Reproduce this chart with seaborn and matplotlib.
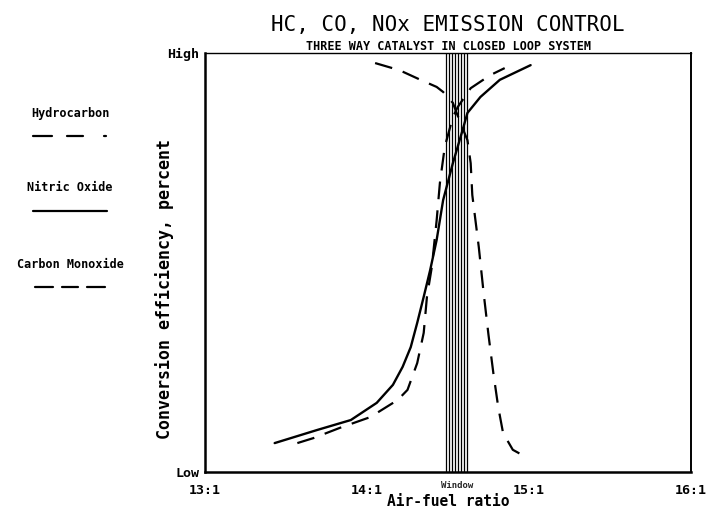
import numpy as np
import pandas as pd
import matplotlib
matplotlib.use("Agg")
import matplotlib.pyplot as plt
import seaborn as sns
from matplotlib.lines import Line2D

# ---------------- data ----------------
nox_x = [13.43, 13.69, 13.90, 14.06, 14.16, 14.22, 14.27, 14.31, 14.35, 14.39,
         14.43, 14.47, 14.53, 14.59, 14.62, 14.70, 14.82, 15.01]
nox_y = [6.9, 10.0, 12.4, 16.5, 20.8, 25.1, 29.8, 35.6, 41.8, 48.2,
         55.4, 64.9, 73.7, 81.6, 85.7, 89.5, 93.6, 97.1]

hc_x = [13.57, 13.67, 13.83, 14.02, 14.19, 14.25, 14.31, 14.35, 14.37, 14.40,
        14.43, 14.45, 14.48, 14.53, 14.56, 14.64, 14.76, 14.85]
hc_y = [6.9, 8.1, 10.5, 13.1, 17.2, 19.6, 26.0, 33.2, 41.8, 48.9,
        60.1, 69.0, 77.6, 84.7, 87.1, 91.6, 94.7, 96.4]

co_x = [14.05, 14.20, 14.33, 14.43, 14.47, 14.53, 14.57, 14.62, 14.64, 14.65,
        14.69, 14.72, 14.75, 14.78, 14.81, 14.84, 14.90, 14.98]
co_y = [97.6, 95.9, 93.6, 91.9, 90.7, 88.1, 84.0, 79.2, 73.7, 66.1,
        53.7, 42.7, 32.7, 23.6, 15.5, 9.3, 5.3, 3.6]

window = [14.49, 14.62]          # catalyst window (air-fuel ratio)
window_lines = 8

x_ticks = [13, 14, 15, 16]
x_tick_labels = ["13:1", "14:1", "15:1", "16:1"]
y_ticks = [0, 20, 40, 60, 80, 100]
y_tick_labels = ["Low", "", "", "", "", "High"]

title = "HC, CO, NOx EMISSION CONTROL"
subtitle = "THREE WAY CATALYST IN CLOSED LOOP SYSTEM"
legend_names = ["Hydrocarbon", "Nitric Oxide", "Carbon Monoxide"]

# ---------------- figure ----------------
sns.set_theme(style="white")
plt.rcParams["font.family"] = ["DejaVu Sans Mono", "DejaVu Sans"]

W, H = 713, 509
fig = plt.figure(figsize=(W / 100, H / 100), dpi=100, facecolor="white")
ax = fig.add_axes([205 / W, 1 - 472 / H, (691 - 205) / W, (472 - 53) / H])
ax.set_facecolor("white")


def fx(px):
    return px / W


def fy(py):
    return 1 - py / H


dash = (0, (8, 5))
df_nox = pd.DataFrame({"x": nox_x, "y": nox_y})
df_hc = pd.DataFrame({"x": hc_x, "y": hc_y})
df_co = pd.DataFrame({"x": co_x, "y": co_y})

sns.lineplot(data=df_nox, x="x", y="y", ax=ax, color="black", lw=1.7,
             estimator=None, sort=False)
sns.lineplot(data=df_hc, x="x", y="y", ax=ax, color="black", lw=1.6,
             estimator=None, sort=False, linestyle=dash)
sns.lineplot(data=df_co, x="x", y="y", ax=ax, color="black", lw=1.6,
             estimator=None, sort=False, linestyle=dash)

ax.vlines(np.linspace(window[0], window[1], window_lines), 0, 100,
          color="black", lw=0.9)
ax.annotate("Window", xy=(np.mean(window), 0), xycoords="data",
            xytext=(0, -10), textcoords="offset points",
            ha="center", va="center", fontsize=6.5, fontweight="bold")

ax.set_xlim(13, 16)
ax.set_ylim(0, 100)
ax.set_xticks(x_ticks)
ax.set_xticklabels(x_tick_labels, fontsize=9.5, fontweight="bold")
ax.set_yticks(y_ticks)
ax.set_yticklabels(y_tick_labels, fontsize=9.5, fontweight="bold")
ax.tick_params(axis="x", direction="in", length=5, width=1.2, pad=9,
               colors="black")
ax.tick_params(axis="y", direction="in", length=5, width=1.2, pad=4,
               colors="black")

for side, lw in [("left", 1.8), ("bottom", 1.8), ("right", 1.4), ("top", 1.0)]:
    ax.spines[side].set_visible(True)
    ax.spines[side].set_color("black")
    ax.spines[side].set_linewidth(lw)

ax.set_xlabel("Air-fuel ratio", fontsize=10.5, fontweight="bold", color="black")
ax.xaxis.label.set_va("center")
ax.xaxis.set_label_coords(0.5, (472 - 502) / 419)
ax.set_ylabel("Conversion efficiency, percent", fontsize=12,
              fontweight="bold", color="black")
ax.yaxis.label.set_va("center")
ax.yaxis.set_label_coords((165 - 205) / 486, (472 - 289) / 419)

fig.text(fx(448), fy(25), title, ha="center", va="center", fontsize=15,
         color="black")
fig.text(fx(448), fy(46), subtitle, ha="center", va="center", fontsize=8.5,
         fontweight="bold", color="black")

# legend (drawn at left, text above sample line)
leg_text_y = [113, 188, 264]
leg_line_y = [136, 211, 287]
for name, ty in zip(legend_names, leg_text_y):
    fig.text(fx(70), fy(ty), name, ha="center", va="center", fontsize=8.5,
             fontweight="bold", color="black")
# hydrocarbon sample: dash dash dot
for x0, x1 in [(33, 52), (67, 83), (104, 106)]:
    fig.add_artist(Line2D([fx(x0), fx(x1)], [fy(leg_line_y[0])] * 2,
                          color="black", lw=1.6))
# nitric oxide sample: solid
fig.add_artist(Line2D([fx(33), fx(107)], [fy(leg_line_y[1])] * 2,
                      color="black", lw=1.6))
# carbon monoxide sample: dashed
for x0, x1 in [(35, 53), (62, 78), (87, 105)]:
    fig.add_artist(Line2D([fx(x0), fx(x1)], [fy(leg_line_y[2])] * 2,
                          color="black", lw=1.6))

fig.savefig("out.png", dpi=100, facecolor="white")
